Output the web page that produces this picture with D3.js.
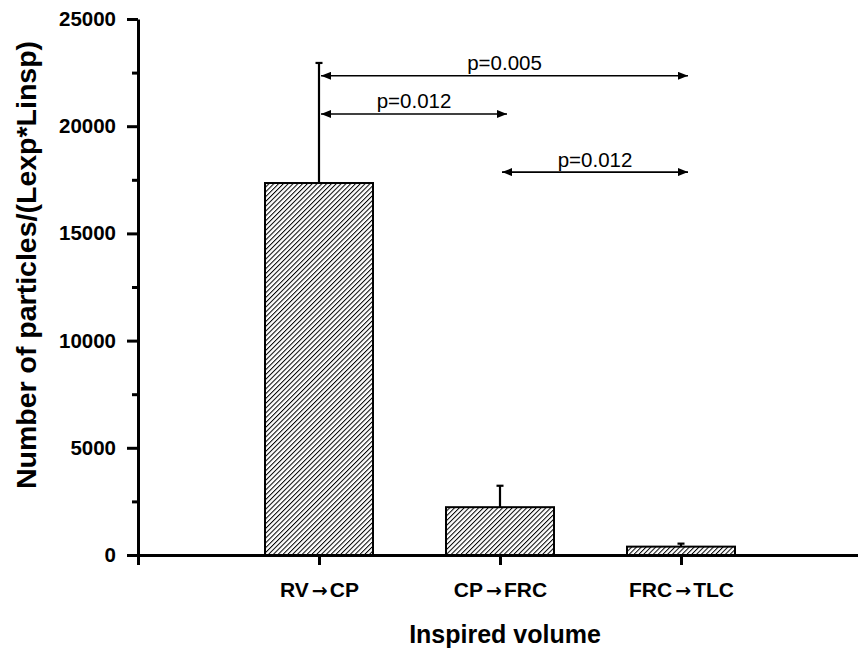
<!DOCTYPE html>
<html>
<head>
<meta charset="utf-8">
<title>Inspired volume</title>
<script src="https://cdn.jsdelivr.net/npm/d3@7"></script>
<style>
    body { margin: 0; background: #fff; }
    svg { font-family: "Liberation Sans", Arial, sans-serif; }
    .axis path, .axis line { stroke: #000; stroke-width: 3; }
    .ytick text { font-size: 20.5px; font-weight: bold; fill: #000; }
    .xtick text { font-size: 21px; font-weight: bold; fill: #000; }
    .ptext { font-size: 20.5px; text-anchor: middle; fill: #000; }
</style>
</head>
<body>
<script>
    // data
    var categories = ["RV\u2192CP", "CP\u2192FRC", "FRC\u2192TLC"];
    var means = [17350, 2230, 390];
    var errors = [5600, 1000, 140];
    var yTicks = [0, 5000, 10000, 15000, 20000, 25000];
    var yMinorTicks = [2500, 7500, 12500, 17500, 22500];

    // significance brackets: from/to category index, height, label
    var compFrom = [0, 0, 1];
    var compTo = [2, 1, 2];
    var compLevel = [22350, 20570, 17860];
    var compLabel = ["p=0.005", "p=0.012", "p=0.012"];

    var width = 858, height = 651;

    var svg = d3.select("body").append("svg")
        .attr("width", width)
        .attr("height", height);

    var defs = svg.append("defs");
    defs.append("pattern")
        .attr("id", "hatch")
        .attr("patternUnits", "userSpaceOnUse")
        .attr("width", 3.4)
        .attr("height", 3.4)
        .attr("patternTransform", "rotate(45)")
        .append("line")
        .attr("x1", 0.5).attr("y1", 0)
        .attr("x2", 0.5).attr("y2", 3.4)
        .attr("stroke", "#000")
        .attr("stroke-width", 1);

    defs.append("marker")
        .attr("id", "head")
        .attr("viewBox", "0 0 10 8")
        .attr("refX", 10).attr("refY", 4)
        .attr("markerUnits", "userSpaceOnUse")
        .attr("markerWidth", 10).attr("markerHeight", 8)
        .attr("orient", "auto-start-reverse")
        .append("path")
        .attr("d", "M0,0L10,4L0,8Z")
        .attr("fill", "#000");

    // x: positions 0..4, categories sit at 1,2,3
    var x = d3.scaleLinear().domain([0, 4]).range([138, 862]);
    var y = d3.scaleLinear().domain([0, 25000]).range([555, 19]);
    var barW = 108;

    // bars
    svg.selectAll(".bar")
        .data(means)
        .enter()
        .append("rect")
        .attr("class", "bar")
        .attr("x", function (d, i) { return x(i + 1) - barW / 2; })
        .attr("y", function (d) { return y(d); })
        .attr("width", barW)
        .attr("height", function (d) { return y(0) - y(d); })
        .attr("fill", "url(#hatch)")
        .attr("stroke", "#000")
        .attr("stroke-width", 2);

    // error bars (upper only)
    var eb = svg.selectAll(".err")
        .data(means)
        .enter()
        .append("g")
        .attr("class", "err");
    eb.append("line")
        .attr("x1", function (d, i) { return x(i + 1); })
        .attr("x2", function (d, i) { return x(i + 1); })
        .attr("y1", function (d) { return y(d); })
        .attr("y2", function (d, i) { return y(d + errors[i]); })
        .attr("stroke", "#000").attr("stroke-width", 2.2);
    eb.append("line")
        .attr("x1", function (d, i) { return x(i + 1) - 3.5; })
        .attr("x2", function (d, i) { return x(i + 1) + 3.5; })
        .attr("y1", function (d, i) { return y(d + errors[i]); })
        .attr("y2", function (d, i) { return y(d + errors[i]); })
        .attr("stroke", "#000").attr("stroke-width", 2.2);

    // y axis
    svg.append("g")
        .attr("class", "axis ytick")
        .attr("transform", "translate(" + x(0) + ",0)")
        .call(d3.axisLeft(y).tickValues(yTicks).tickSize(11).tickSizeOuter(0).tickPadding(11).tickFormat(d3.format("d")));
    svg.append("g")
        .attr("class", "axis")
        .attr("transform", "translate(" + x(0) + ",0)")
        .call(d3.axisLeft(y).tickValues(yMinorTicks).tickSize(6).tickSizeOuter(0).tickFormat(""))
        .select(".domain").remove();

    // x axis
    var xAxis = svg.append("g")
        .attr("class", "axis xtick")
        .attr("transform", "translate(0," + y(0) + ")")
        .call(d3.axisBottom(x).tickValues([0, 1, 2, 3]).tickSize(10).tickSizeOuter(0).tickPadding(17)
            .tickFormat(function (d) { return d === 0 ? "" : categories[d - 1]; }));

    // draw the arrow in the labels with a font that has a bolder glyph
    xAxis.selectAll(".tick text").each(function () {
        var t = d3.select(this);
        var parts = t.text().split("\u2192");
        if (parts.length < 2) return;
        t.text(null);
        t.append("tspan").text(parts[0]);
        t.append("tspan").attr("dx", 3)
            .style("font-family", "'DejaVu Sans'")
            .style("font-size", "19px")
            .text("\u2192");
        t.append("tspan").attr("dx", 2).text(parts[1]);
    });

    // significance arrows
    var comps = d3.range(compLabel.length);
    svg.selectAll(".comp")
        .data(comps)
        .enter()
        .append("line")
        .attr("x1", function (i) { return x(compFrom[i] + 1) + 2; })
        .attr("x2", function (i) { return x(compTo[i] + 1) + 7; })
        .attr("y1", function (i) { return y(compLevel[i]); })
        .attr("y2", function (i) { return y(compLevel[i]); })
        .attr("stroke", "#000")
        .attr("stroke-width", 1.6)
        .attr("marker-start", "url(#head)")
        .attr("marker-end", "url(#head)");

    svg.selectAll(".ptext")
        .data(comps)
        .enter()
        .append("text")
        .attr("class", "ptext")
        .attr("x", function (i) { return (x(compFrom[i] + 1) + x(compTo[i] + 1) + 9) / 2; })
        .attr("y", function (i) { return y(compLevel[i]) - 5.5; })
        .text(function (i) { return compLabel[i]; });

    // axis titles
    svg.append("text")
        .attr("x", 505)
        .attr("y", 643)
        .attr("text-anchor", "middle")
        .style("font-size", "25px")
        .style("font-weight", "bold")
        .text("Inspired volume");

    svg.append("text")
        .attr("transform", "translate(36,265) rotate(-90)")
        .attr("text-anchor", "middle")
        .style("font-size", "28.5px")
        .style("font-weight", "bold")
        .text("Number of particles/(Lexp*Linsp)");
</script>
</body>
</html>
